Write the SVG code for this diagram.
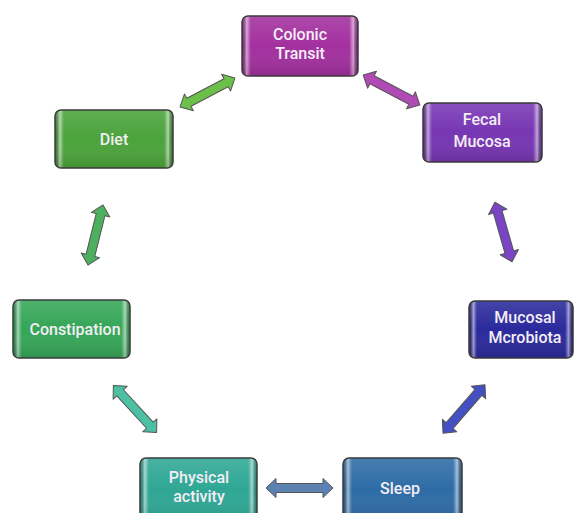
<svg xmlns="http://www.w3.org/2000/svg" width="576" height="513" viewBox="0 0 576 513">
<defs>
<linearGradient id="shine" x1="0" y1="0" x2="1" y2="0">
<stop offset="0" stop-color="#000" stop-opacity="0.25"/>
<stop offset="0.035" stop-color="#fff" stop-opacity="0.55"/>
<stop offset="0.07" stop-color="#fff" stop-opacity="0"/>
<stop offset="0.93" stop-color="#fff" stop-opacity="0"/>
<stop offset="0.965" stop-color="#fff" stop-opacity="0.55"/>
<stop offset="1" stop-color="#000" stop-opacity="0.25"/>
</linearGradient>
<linearGradient id="vshade" x1="0" y1="0" x2="0" y2="1">
<stop offset="0" stop-color="#fff" stop-opacity="0.12"/>
<stop offset="0.5" stop-color="#fff" stop-opacity="0"/>
<stop offset="1" stop-color="#000" stop-opacity="0.12"/>
</linearGradient>
</defs>
<style>
.box{stroke:#3a3a3a;stroke-width:1.5}
.ov{fill:url(#shine);stroke:none}
.ov2{fill:url(#vshade);stroke:none}
.lbl{font-family:Roboto,"Liberation Sans",Arial,sans-serif;font-weight:500;font-size:16px;fill:#f4eef6;text-anchor:middle}
.arr{stroke:#555;stroke-width:1;stroke-linejoin:round}
</style>
<rect width="576" height="513" fill="#fff"/>
<g id="connectors">
<path class="arr" fill="#6cbf48" transform="translate(207.5,92.5) rotate(-27.8)" d="M-31,0 L-21,-9.5 L-21,-4.5 L21,-4.5 L21,-9.5 L31,0 L21,9.5 L21,4.5 L-21,4.5 L-21,9.5 Z"/>
<path class="arr" fill="#b04ab4" transform="translate(391.5,90) rotate(27.8)" d="M-32,0 L-22,-9.5 L-22,-4.5 L22,-4.5 L22,-9.5 L32,0 L22,9.5 L22,4.5 L-22,4.5 L-22,9.5 Z"/>
<path class="arr" fill="#4cb05e" transform="translate(95.5,235) rotate(104)" d="M-31,0 L-21,-9.5 L-21,-4.5 L21,-4.5 L21,-9.5 L31,0 L21,9.5 L21,4.5 L-21,4.5 L-21,9.5 Z"/>
<path class="arr" fill="#7a44c4" transform="translate(503.5,232) rotate(74)" d="M-31,0 L-21,-9.5 L-21,-4.5 L21,-4.5 L21,-9.5 L31,0 L21,9.5 L21,4.5 L-21,4.5 L-21,9.5 Z"/>
<path class="arr" fill="#4cc0a2" transform="translate(135,409) rotate(47.5)" d="M-32,0 L-22,-9.5 L-22,-4.5 L22,-4.5 L22,-9.5 L32,0 L22,9.5 L22,4.5 L-22,4.5 L-22,9.5 Z"/>
<path class="arr" fill="#4450c2" transform="translate(464,409) rotate(131)" d="M-32,0 L-22,-9.5 L-22,-4.5 L22,-4.5 L22,-9.5 L32,0 L22,9.5 L22,4.5 L-22,4.5 L-22,9.5 Z"/>
<path class="arr" fill="#5b82b0" transform="translate(299.5,488)" d="M-33.5,0 L-23.5,-9.5 L-23.5,-4.5 L23.5,-4.5 L23.5,-9.5 L33.5,0 L23.5,9.5 L23.5,4.5 L-23.5,4.5 L-23.5,9.5 Z"/>
</g>
<g id="colonic-transit">
<rect class="box" x="242" y="16" width="116" height="60" rx="6" fill="#a3309f"/>
<rect class="ov" x="242.7" y="16.7" width="114.6" height="58.6" rx="5.5"/>
<rect class="ov2" x="242.7" y="16.7" width="114.6" height="58.6" rx="5.5"/>
<text class="lbl" x="300" y="40">Colonic</text>
<text class="lbl" x="300" y="59">Transit</text>
</g>
<g id="diet">
<rect class="box" x="55" y="110" width="118" height="58" rx="6" fill="#4ba33b"/>
<rect class="ov" x="55.7" y="110.7" width="116.6" height="56.6" rx="5.5"/>
<rect class="ov2" x="55.7" y="110.7" width="116.6" height="56.6" rx="5.5"/>
<text class="lbl" x="114" y="145">Diet</text>
</g>
<g id="fecal-mucosa">
<rect class="box" x="423" y="103" width="119" height="59" rx="6" fill="#7736b3"/>
<rect class="ov" x="423.7" y="103.7" width="117.6" height="57.6" rx="5.5"/>
<rect class="ov2" x="423.7" y="103.7" width="117.6" height="57.6" rx="5.5"/>
<text class="lbl" x="482" y="125">Fecal</text>
<text class="lbl" x="482" y="147">Mucosa</text>
</g>
<g id="mucosal-microbiota">
<rect class="box" x="469" y="301" width="104" height="57" rx="6" fill="#2b2a9c"/>
<rect class="ov" x="469.7" y="301.7" width="102.6" height="55.6" rx="5.5"/>
<rect class="ov2" x="469.7" y="301.7" width="102.6" height="55.6" rx="5.5"/>
<text class="lbl" x="525" y="323">Mucosal</text>
<text class="lbl" x="525" y="343">Mcrobiota</text>
</g>
<g id="constipation">
<rect class="box" x="13" y="300" width="117" height="58" rx="6" fill="#35a658"/>
<rect class="ov" x="13.7" y="300.7" width="115.6" height="56.6" rx="5.5"/>
<rect class="ov2" x="13.7" y="300.7" width="115.6" height="56.6" rx="5.5"/>
<text class="lbl" x="75" y="335">Constipation</text>
</g>
<g id="physical-activity">
<rect class="box" x="140" y="458" width="117" height="64" rx="6" fill="#2fa795"/>
<rect class="ov" x="140.7" y="458.7" width="115.6" height="62.6" rx="5.5"/>
<rect class="ov2" x="140.7" y="458.7" width="115.6" height="62.6" rx="5.5"/>
<text class="lbl" x="199" y="483">Physical</text>
<text class="lbl" x="199" y="502">activity</text>
</g>
<g id="sleep">
<rect class="box" x="343" y="458" width="119" height="64" rx="6" fill="#2e6ca6"/>
<rect class="ov" x="343.7" y="458.7" width="117.6" height="62.6" rx="5.5"/>
<rect class="ov2" x="343.7" y="458.7" width="117.6" height="62.6" rx="5.5"/>
<text class="lbl" x="400" y="494">Sleep</text>
</g>
</svg>
